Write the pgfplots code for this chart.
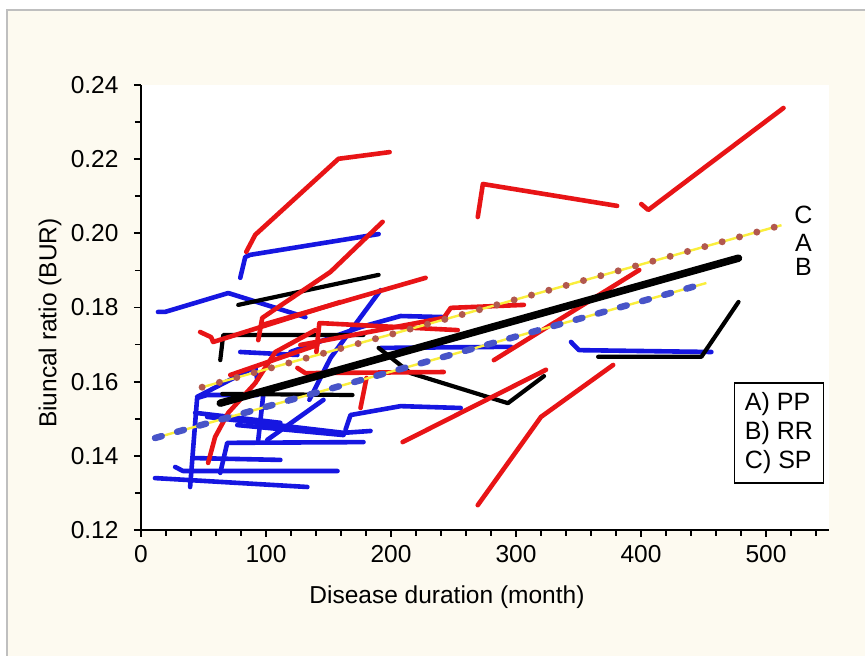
\documentclass[border=0pt]{standalone}
\usepackage{fontspec}
\setmainfont{Liberation Sans}
\usepackage{pgfplots}
\pgfplotsset{compat=1.18}
\definecolor{cream}{RGB}{253,250,240}
\definecolor{rred}{RGB}{232,20,22}
\definecolor{bblue}{RGB}{22,22,225}
\definecolor{tyellow}{RGB}{250,238,60}
\definecolor{tdot}{RGB}{178,88,78}
\definecolor{tblue}{RGB}{72,84,200}
\pgfplotsset{
  rl/.style={rred, line width=4.6bp, line join=round, line cap=round, mark=none},
  bl/.style={bblue, line width=4.6bp, line join=round, line cap=round, mark=none},
  kl/.style={black, line width=4.2bp, line join=round, line cap=round, mark=none},
}
\begin{document}
\begin{tikzpicture}
\path[use as bounding box] (0,0) rectangle (865bp,656bp);
\fill[white] (0,0) rectangle (865bp,656bp);
\fill[cream] (7bp,0) rectangle (865bp,646bp);
\draw[black!25, line width=1.2bp] (7bp,0) -- (7bp,646bp) -- (865bp,646bp);
\begin{axis}[
  at={(141bp,126bp)}, anchor=south west,
  scale only axis, width=687.5bp, height=445bp,
  xmin=0, xmax=550, ymin=0.12, ymax=0.24,
  axis lines*=left, axis line style={-, line width=1.8bp},
  axis background/.style={fill=white},
  xtick={0,100,200,300,400,500},
  minor xtick={20,40,60,80,120,140,160,180,220,240,260,280,320,340,360,380,420,440,460,480,520,540},
  ytick={0.12,0.14,0.16,0.18,0.20,0.22,0.24},
  minor ytick={0.13,0.15,0.17,0.19,0.21,0.23},
  tick align=outside, major tick length=7bp, minor tick length=6bp,
  every tick/.style={black, line width=1.8bp},
  minor tick style={black, line width=1.6bp},
  yticklabel style={/pgf/number format/fixed, /pgf/number format/fixed zerofill, /pgf/number format/precision=2, xshift=-12bp},
  xticklabel style={yshift=-5bp},
  tick label style={font=\fontsize{24.5bp}{28bp}\selectfont},
  /pgf/number format/assume math mode=true,
  xlabel={Disease duration (month)},
  ylabel={Biuncal ratio (BUR)},
  xlabel style={at={(axis description cs:0.445,-0.1506)}, anchor=center, font=\fontsize{24.5bp}{28bp}\selectfont},
  ylabel style={at={(axis description cs:-0.1324,0.465)}, anchor=center, font=\fontsize{24.5bp}{28bp}\selectfont},
  clip=false,
]
% ---- blue series ----
\addplot[bl] coordinates {(79.4,0.1880)(83.4,0.1936)(87.4,0.1942)(190.1,0.1998)};
\addplot[bl] coordinates {(13.6,0.1788)(19.2,0.1788)(69.8,0.1839)(131.5,0.1774)};
\addplot[bl] coordinates {(134.7,0.1551)(151.6,0.1664)(191.7,0.1847)};
\addplot[bl] coordinates {(79.4,0.1680)(125.1,0.1672)};
\addplot[bl] coordinates {(344,0.1707)(350.4,0.1685)(456.3,0.1680)};
\addplot[bl] coordinates {(163.6,0.1470)(167.6,0.1510)(207.7,0.1534)(255.8,0.1529)};
\addplot[bl] coordinates {(11.2,0.1340)(133.1,0.1316)};
\addplot[bl] coordinates {(27.3,0.1370)(33.7,0.1359)(157.2,0.1359)};
\addplot[bl] coordinates {(63.4,0.1354)(69,0.1435)(178,0.1437)};
\addplot[bl] coordinates {(39.3,0.1316)(44.9,0.1556)(52.9,0.1564)(93,0.1564)};
\addplot[bl] coordinates {(52.9,0.1505)(162,0.1462)(183.6,0.1467)};
\addplot[bl] coordinates {(77,0.1483)(162,0.1456)};
\addplot[bl] coordinates {(93.8,0.1443)(97.8,0.1564)};
\addplot[bl] coordinates {(101,0.1443)(146,0.1551)};
\addplot[bl] coordinates {(191.7,0.1691)(295.9,0.1694)};
\addplot[bl] coordinates {(119.5,0.1680)(175.6,0.1747)(207.7,0.1777)(243.8,0.1774)};
\addplot[bl] coordinates {(43.3,0.1516)(111.5,0.1489)};
\addplot[bl] coordinates {(41.7,0.1394)(111.5,0.1389)};
\addplot[bl] coordinates {(44.9,0.1559)(91.4,0.1640)(93,0.1605)};
% ---- black series ----
\addplot[kl] coordinates {(77.8,0.1807)(190.1,0.1888)};
\addplot[kl] coordinates {(63.4,0.1658)(65.8,0.1726)(178,0.1726)};
\addplot[kl] coordinates {(65,0.1567)(169.2,0.1564)};
\addplot[kl] coordinates {(365.7,0.1667)(448.3,0.1667)(478,0.1815)};
\addplot[kl] coordinates {(190.1,0.1691)(215.7,0.1623)(293.5,0.1542)(322.4,0.1615)};
% ---- red series ----
\addplot[rl] coordinates {(400.2,0.2079)(405.8,0.2063)(514,0.2338)};
\addplot[rl] coordinates {(269.4,0.2044)(273.5,0.2133)(380.9,0.2074)};
\addplot[rl] coordinates {(84.2,0.1950)(91.4,0.1996)(158,0.2201)(198.9,0.2219)};
\addplot[rl] coordinates {(93.8,0.1712)(97,0.1772)(151.6,0.1896)(193.3,0.2031)};
\addplot[rl] coordinates {(47.3,0.1734)(56.1,0.1720)(57.7,0.1707)(159.6,0.1815)};
\addplot[rl] coordinates {(97,0.1753)(227.7,0.1880)};
\addplot[rl] coordinates {(53.7,0.1381)(59.3,0.1451)(69.8,0.1516)(91.4,0.1596)(107.5,0.1680)(139.5,0.1739)};
\addplot[rl] coordinates {(140.3,0.1680)(142.7,0.1758)(253.4,0.1739)};
\addplot[rl] coordinates {(127.5,0.1699)(242.2,0.1772)(247.8,0.1799)(306.3,0.1807)};
\addplot[rl] coordinates {(125.1,0.1637)(131.5,0.1623)(242.2,0.1626)};
\addplot[rl] coordinates {(175.6,0.1529)(180.4,0.1610)};
\addplot[rl] coordinates {(209.3,0.1437)(324,0.1632)};
\addplot[rl] coordinates {(269.4,0.1267)(320,0.1505)(377.7,0.1645)};
\addplot[rl] coordinates {(282.3,0.1658)(398.6,0.1901)};
\addplot[rl] coordinates {(71.4,0.1618)(141.1,0.1699)};
% ---- trend lines ----
\addplot[tyellow, line width=2.4bp, mark=none] coordinates {(48.9,0.1585)(512.4,0.2022)};
\addplot[tdot, line width=7bp, line cap=round, dash pattern=on 0bp off 18bp, mark=none] coordinates {(48.9,0.1585)(512.4,0.2022)};
\addplot[black, line width=7.5bp, line cap=round, mark=none] coordinates {(63.4,0.1542)(478,0.1933)};
\addplot[tyellow, line width=2.4bp, mark=none] coordinates {(11.2,0.1448)(452.3,0.1866)};
\addplot[tblue, line width=6.5bp, line cap=round, dash pattern=on 7bp off 16bp, mark=none] coordinates {(11.2,0.1448)(452.3,0.1866)};
% ---- annotations ----
\node[font=\fontsize{25bp}{29bp}\selectfont] at (axis cs:530,0.2049) {C};
\node[font=\fontsize{25bp}{29bp}\selectfont] at (axis cs:530,0.1974) {A};
\node[font=\fontsize{25bp}{29bp}\selectfont] at (axis cs:530,0.1909) {B};
\node[draw, line width=1.6bp, fill=white, align=left, minimum width=89bp, minimum height=100bp,
      inner xsep=6bp, font=\fontsize{25bp}{29bp}\selectfont] at (axis cs:510.4,0.1462) {A) PP\\B) RR\\C) SP};
\end{axis}
\end{tikzpicture}
\end{document}
